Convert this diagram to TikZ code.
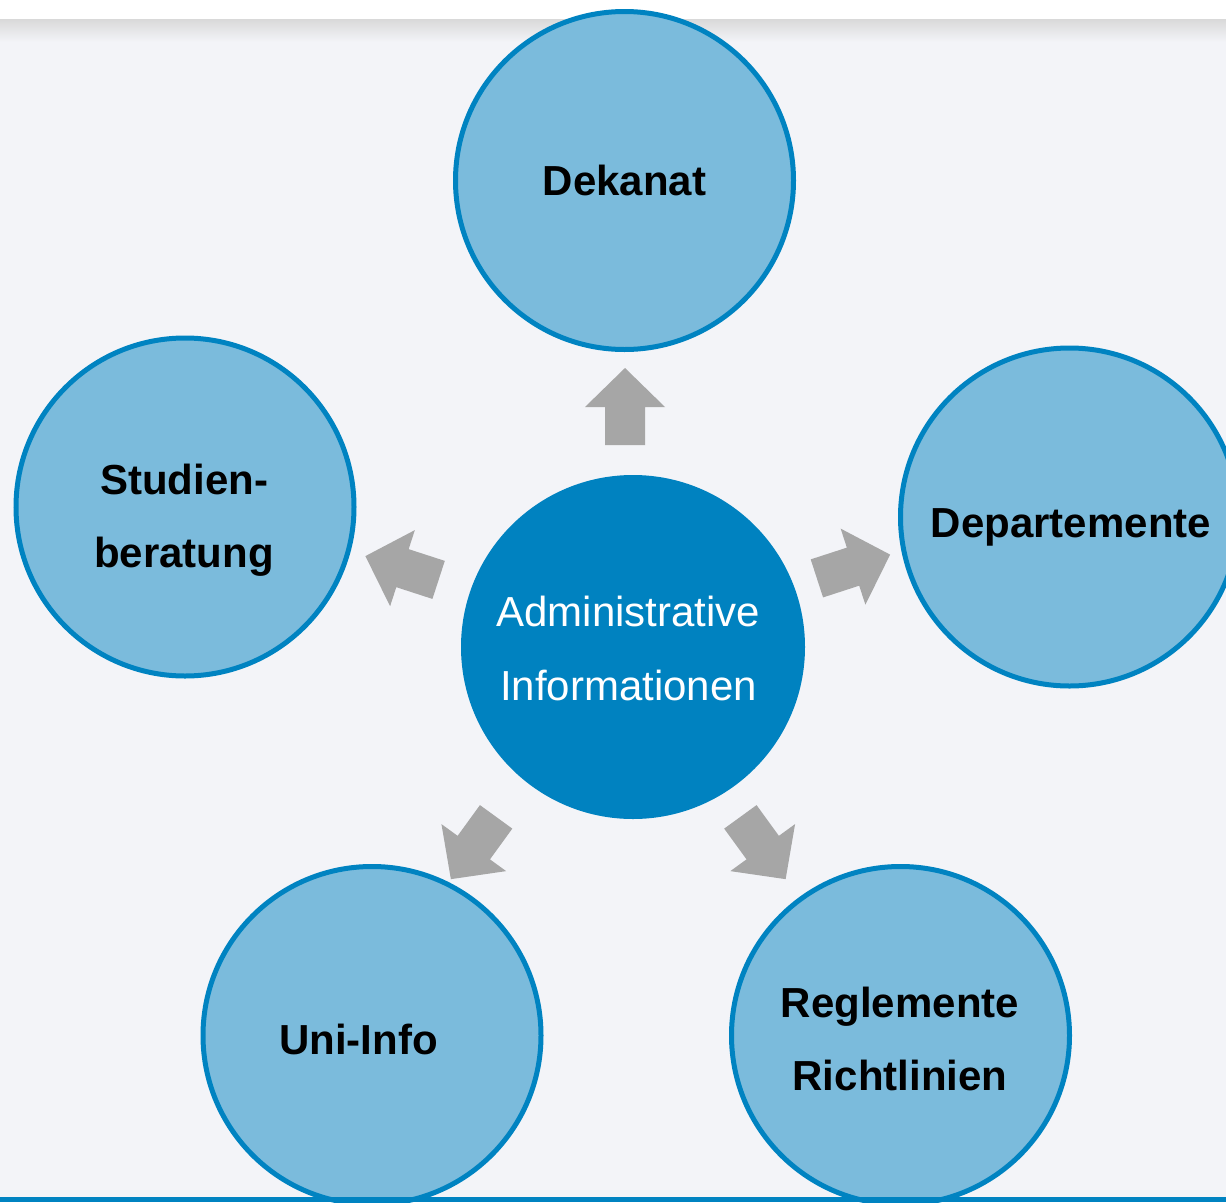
\documentclass[tikz,border=0pt]{standalone}
\usepackage{fontspec}
\setmainfont{Liberation Sans}
\definecolor{bg}{HTML}{F3F4F8}
\definecolor{shadowgray}{HTML}{D9D9D9}
\definecolor{satfill}{HTML}{7BBBDC}
\definecolor{satline}{HTML}{0083C1}
\definecolor{hubblue}{HTML}{0082C0}
\definecolor{arrowgray}{HTML}{A6A6A6}
\tikzset{
  sat/.style={circle, fill=satfill, draw=satline, line width=5pt, minimum size=338pt, inner sep=0pt},
  hub/.style={circle, fill=hubblue, minimum size=344pt, inner sep=0pt},
  sattext/.style={font=\fontsize{42}{73}\selectfont\bfseries, text=black, align=center, inner sep=0pt},
  hubtext/.style={font=\fontsize{42}{74}\selectfont, text=white, align=center, inner sep=0pt},
  blockarrow/.pic={\fill[arrowgray] (-38.5,-20) -- (-0.5,-20) -- (-0.5,-40) -- (38.5,0) -- (-0.5,40) -- (-0.5,20) -- (-38.5,20) -- cycle;}
}
\begin{document}
\begin{tikzpicture}[x=1pt,y=-1pt]
\useasboundingbox (0,0) rectangle (1226,1202);
\fill[bg] (0,0) rectangle (1226,1202);
\fill[white] (0,0) rectangle (1226,19);
\shade[top color=shadowgray, bottom color=bg] (0,19) rectangle (1226,42);

% satellites
\node[sat] (dek) at (624.5,180.5) {};
\node[sat] (dep) at (1069.5,517) {};
\node[sat] (stu) at (185,507) {};
\node[sat] (uni) at (372,1035.5) {};
\node[sat] (reg) at (900.5,1035.5) {};
\node[hub] (hub) at (633,647) {};

% labels
\node[sattext, anchor=base] (dektext) at (624.5,195) {Dekanat};
\node[sattext, anchor=base] (deptext) at (1071,537) {Departemente};
\node[sattext] (stutext) at (184,520) {Studien-\\beratung};
\node[sattext, anchor=base] (unitext) at (358.5,1054) {Uni-Info};
\node[sattext] (regtext) at (900,1039) {Reglemente\\Richtlinien};
\node[hubtext] (hubtext) at (628.5,648.7) {Administrative\\Informationen};

% arrows
\pic[rotate=90] at (625,406.5) {blockarrow};
\pic[rotate=18] at (853.5,566.5) {blockarrow};
\pic[rotate=-54] at (763,848) {blockarrow};
\pic[rotate=-126] at (473.5,848) {blockarrow};
\pic[rotate=162] at (402,568) {blockarrow};

% bottom band
\fill[satline] (0,1197) rectangle (1226,1202);
\end{tikzpicture}
\end{document}
